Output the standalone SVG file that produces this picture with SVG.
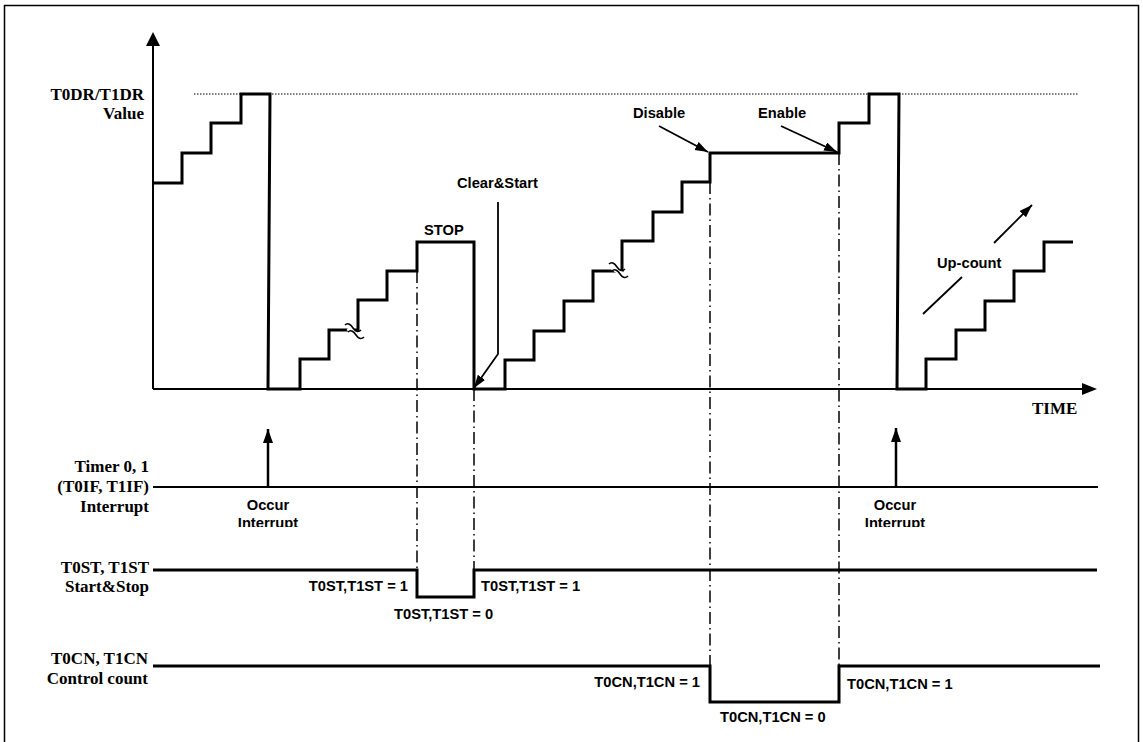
<svg xmlns="http://www.w3.org/2000/svg" width="1143" height="742" viewBox="0 0 1143 742">
<style>
.ser{font-family:"Liberation Serif","Times New Roman",serif;font-weight:bold;font-size:17px;fill:#000}
.san{font-family:"Liberation Sans",Arial,sans-serif;font-weight:bold;font-size:14.7px;fill:#000}
.end{text-anchor:end}
.mid{text-anchor:middle}
.wave{fill:none;stroke:#000;stroke-width:3;stroke-linejoin:miter;stroke-linecap:butt}
.sig{fill:none;stroke:#000;stroke-width:3}
.thin{fill:none;stroke:#000;stroke-width:2}
.dd{fill:none;stroke:#000;stroke-width:1.5;stroke-dasharray:12 4 1.5 4}
.dot{fill:none;stroke:#000;stroke-width:1.2;stroke-dasharray:1.5 1.5}
.ptr{fill:none;stroke:#000;stroke-width:1.8}
.brk{fill:none;stroke:#000;stroke-width:1.6}
.gap{fill:none;stroke:#fff;stroke-width:5}
</style>
<defs>
<marker id="ah" markerUnits="userSpaceOnUse" markerWidth="14" markerHeight="10" refX="13" refY="4.5" orient="auto"><path d="M0,0 L13,4.5 L0,9 z" fill="#000"/></marker>
<marker id="ahOcc" markerUnits="userSpaceOnUse" markerWidth="15" markerHeight="11" refX="14" refY="5" orient="auto"><path d="M0,0 L14,5 L0,10 z" fill="#000"/></marker>
<clipPath id="clipInt"><rect x="0" y="0" width="1143" height="527"/></clipPath>
</defs>
<rect x="4.5" y="5.5" width="1134" height="745" fill="#fff" stroke="#000" stroke-width="1.5"/>

<g id="axes">
<line x1="153" y1="389" x2="153" y2="44" class="thin"/>
<polygon points="153,32 146,46 160,46" fill="#000"/>
<line x1="153" y1="389" x2="1084" y2="389" class="thin"/>
<polygon points="1097,389 1082,383 1082,395" fill="#000"/>
<line x1="194" y1="94" x2="1078" y2="94" class="dot"/>
<text class="ser end" x="144" y="100">T0DR/T1DR</text>
<text class="ser end" x="144" y="119">Value</text>
<text class="ser" x="1032" y="414">TIME</text>
</g>

<g id="counter">
<path class="wave" d="M153,183 H182 V153 H211 V123 H241 V94 H270 L268,389 H300 V359 H329 V330 H358 V300 H387 V271 H417 V242 H474 V389 H505 V360 H534 V331 H564 V301 H593 V271 H622 V241 H653 V212 H682 V182 H710 V153 H839 V123 H869 V94 H899 L897,389 H926 V359 H956 V330 H985 V301 H1014 V271 H1044 V242 H1073"/>
<g id="break1">
<path class="gap" d="M348,328 L362,338"/>
<path class="brk" d="M345,325 c3,-3 6,0 8,3 s5,5 8,2"/>
<path class="brk" d="M348,332 c3,-3 6,0 8,3 s5,5 8,2"/>
</g>
<g id="break2">
<path class="gap" d="M612,267 L626,277"/>
<path class="brk" d="M609,264 c3,-3 6,0 8,3 s5,5 8,2"/>
<path class="brk" d="M612,271 c3,-3 6,0 8,3 s5,5 8,2"/>
</g>
</g>

<g id="label-stop"><text class="san" x="424" y="235">STOP</text></g>
<g id="label-clear"><text class="san" x="457" y="188">Clear&amp;Start</text></g>
<g id="label-disable"><text class="san" x="633" y="118">Disable</text></g>
<g id="label-enable"><text class="san" x="758" y="118">Enable</text></g>
<g id="label-upcount"><text class="san" x="937" y="268">Up-count</text></g>

<g id="connectors">
<path class="ptr" d="M498,202 V354 L474,388" marker-end="url(#ah)"/>
<line class="ptr" x1="659" y1="126" x2="708" y2="152" marker-end="url(#ah)"/>
<line class="ptr" x1="781" y1="126" x2="837" y2="152" marker-end="url(#ah)"/>
<line class="ptr" x1="923" y1="314" x2="962" y2="277"/>
<line class="ptr" x1="994" y1="243" x2="1032" y2="205" marker-end="url(#ah)"/>
<line x1="268" y1="487" x2="268" y2="429" stroke="#000" stroke-width="2.5" marker-end="url(#ahOcc)"/>
<line x1="896" y1="487" x2="896" y2="428" stroke="#000" stroke-width="2.5" marker-end="url(#ahOcc)"/>
<line class="dd" x1="417" y1="271" x2="417" y2="570"/>
<line class="dd" x1="474" y1="389" x2="474" y2="570"/>
<line class="dd" x1="710" y1="182" x2="710" y2="666"/>
<line class="dd" x1="839" y1="153" x2="839" y2="666"/>
</g>

<g id="interrupt-signal">
<line class="thin" x1="153" y1="487" x2="1098" y2="487"/>
<text class="ser end" x="149" y="472">Timer 0, 1</text>
<text class="ser end" x="149" y="492">(T0IF, T1IF)</text>
<text class="ser end" x="149" y="512">Interrupt</text>
<g clip-path="url(#clipInt)">
<text class="san mid" x="268" y="510">Occur</text>
<text class="san mid" x="268" y="528">Interrupt</text>
<text class="san mid" x="895" y="510">Occur</text>
<text class="san mid" x="895" y="528">Interrupt</text>
</g>
</g>

<g id="start-stop-signal">
<path class="sig" d="M153,570 H417 V597 H474 V570 H1097"/>
<text class="ser end" x="149" y="573">T0ST, T1ST</text>
<text class="ser end" x="149" y="592">Start&amp;Stop</text>
<text class="san end" x="408" y="591">T0ST,T1ST = 1</text>
<text class="san" x="394" y="619">T0ST,T1ST = 0</text>
<text class="san" x="481" y="591">T0ST,T1ST = 1</text>
</g>

<g id="control-count-signal">
<path class="sig" d="M153,666 H710 V702 H839 V666 H1100"/>
<text class="ser end" x="148" y="664">T0CN, T1CN</text>
<text class="ser end" x="148" y="684">Control count</text>
<text class="san end" x="700" y="687">T0CN,T1CN = 1</text>
<text class="san" x="720" y="722">T0CN,T1CN = 0</text>
<text class="san" x="847" y="689">T0CN,T1CN = 1</text>
</g>
</svg>
